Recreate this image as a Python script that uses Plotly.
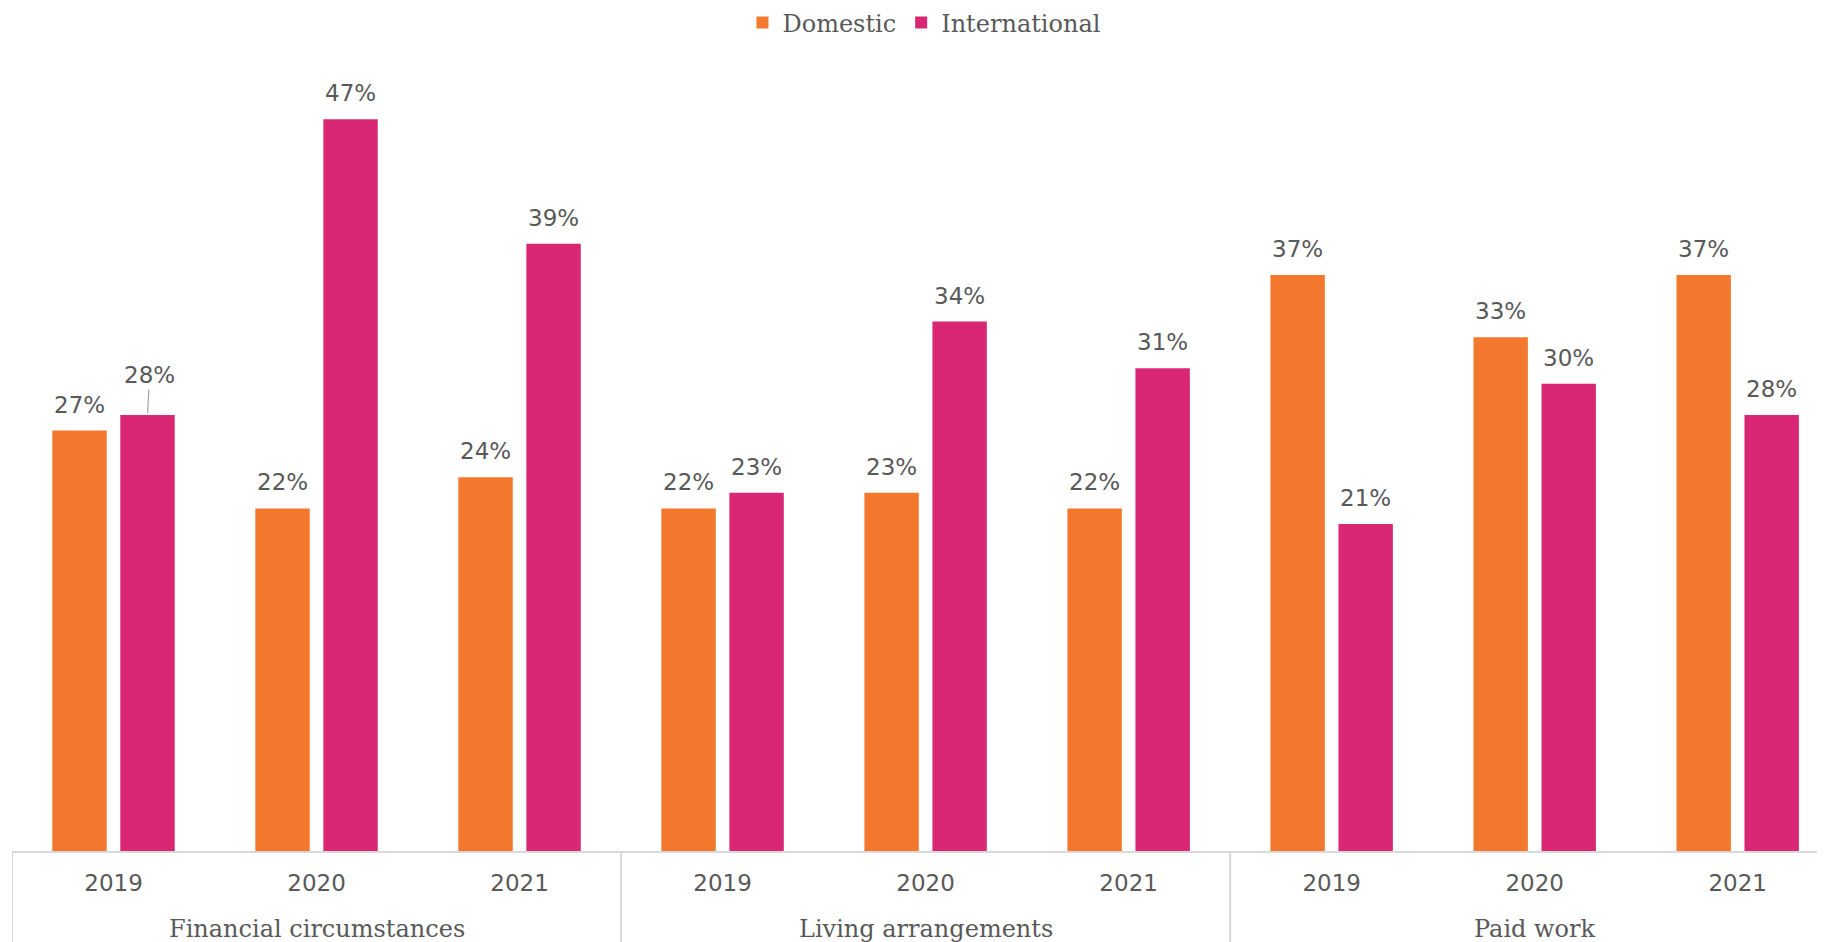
import plotly.graph_objects as go

groups = ["Financial circumstances", "Living arrangements", "Paid work"]
years = ["2019", "2020", "2021"]
domestic = [27, 22, 24, 22, 23, 22, 37, 33, 37]
international = [28, 47, 39, 23, 34, 31, 21, 30, 28]

ORANGE = "#F3782E"
PINK = "#DA2773"
TEXT = "#595959"
LINE = "#D9D9D9"
FONT = "DejaVu Sans"
SERIF = "DejaVu Serif"

n_years = len(years)
xlabels = [y for _ in groups for y in years]
xpos = list(range(len(xlabels)))

fig = go.Figure()
fig.add_trace(go.Bar(name="Domestic", x=xpos, y=domestic, marker_color=ORANGE,
                     marker_line_width=0))
fig.add_trace(go.Bar(name="International", x=xpos, y=international, marker_color=PINK,
                     marker_line_width=0))

bargap = 0.33
half = (1 - bargap) / 4  # centre offset of each bar within its group

label_font = dict(family=FONT, size=23, color=TEXT)
annotations = []
for i, (d, n) in enumerate(zip(domestic, international)):
    annotations.append(dict(x=i - half, y=d, xref="x", yref="y", text=f"{d}%",
                            showarrow=False, yanchor="middle", yshift=26, font=label_font))
    if i == 0:
        annotations.append(dict(x=i + half, y=n, xref="x", yref="y", text=f"{n}%",
                                showarrow=True, arrowhead=0, arrowwidth=1.2,
                                arrowcolor="#A6A6A6", ax=2, ay=-40, standoff=2,
                                font=label_font))
    else:
        annotations.append(dict(x=i + half, y=n, xref="x", yref="y", text=f"{n}%",
                                showarrow=False, yanchor="middle", yshift=26, font=label_font))

# group labels under the year labels
for gi, g in enumerate(groups):
    annotations.append(dict(x=gi * n_years + (n_years - 1) / 2, y=0, xref="x", yref="paper",
                            text=g, showarrow=False, yanchor="middle", yshift=-78,
                            font=dict(family=SERIF, size=24, color=TEXT)))

# group dividers
shapes = []
for gi in range(len(groups) + 1):
    shapes.append(dict(type="line", xref="x", yref="paper",
                       x0=gi * n_years - 0.5, x1=gi * n_years - 0.5, y0=0, y1=-0.2,
                       line=dict(color=LINE, width=2)))

fig.update_layout(
    width=1817, height=934,
    margin=dict(l=4, r=0, t=52, b=91, autoexpand=False),
    paper_bgcolor="white", plot_bgcolor="white",
    barmode="group", bargap=bargap, bargroupgap=0.2,
    font=dict(family=FONT, color=TEXT, size=23),
    legend=dict(orientation="h", x=0.503, xanchor="center", yref="container",
                y=0.984, yanchor="middle",
                font=dict(family=SERIF, size=24, color=TEXT), itemclick=False,
                itemwidth=30, tracegroupgap=0),
    xaxis=dict(range=[-0.5, 8.43], tickmode="array", tickvals=xpos,
               ticktext=xlabels, showline=True, linecolor=LINE, linewidth=2,
               ticks="", ticklabelstandoff=10, tickfont=dict(family=FONT, size=23, color=TEXT),
               showgrid=False, zeroline=False),
    yaxis=dict(range=[0, 50.8], visible=False, showgrid=False, zeroline=False),
    annotations=annotations,
    shapes=shapes,
)

fig.write_html("out.html")
